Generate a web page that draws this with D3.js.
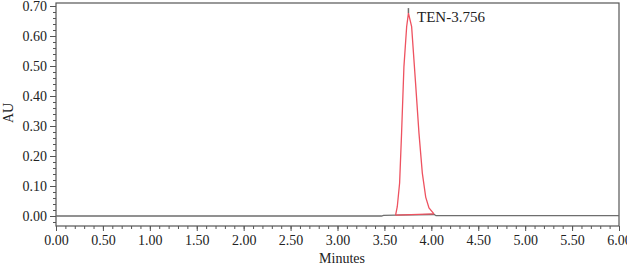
<!DOCTYPE html>
<meta charset="utf-8">
<style>
    body {
        margin: 0;
        background: #fff;
        font-family: "Liberation Serif", "Times New Roman", serif;
    }

    text {
        fill: #222;
    }
</style>

<body>
    <svg id="chart" width="627" height="272"></svg>
</body>

<script src="https://cdn.jsdelivr.net/npm/d3@7/dist/d3.min.js"></script>
<script>
    // chromatogram trace (minutes, AU)
    var baseTimes = [0.00, 3.47, 3.49, 3.62, 4.03, 4.05, 6.00],
        baseValues = [0.000, 0.000, 0.002, 0.003, 0.005, 0.001, 0.001];

    var peakTimes = [3.619, 3.637, 3.662, 3.683, 3.708, 3.737, 3.756, 3.790, 3.832, 3.868, 3.904, 3.940, 3.975, 4.028],
        peakValues = [0.003, 0.031, 0.110, 0.277, 0.498, 0.631, 0.676, 0.631, 0.443, 0.277, 0.143, 0.063, 0.027, 0.007];

    var apexTime = 3.756,
        apexTop = 0.693,
        peakLabel = "TEN-3.756";

    var xTicks = [0, 0.5, 1, 1.5, 2, 2.5, 3, 3.5, 4, 4.5, 5, 5.5, 6],
        yTicks = [0, 0.1, 0.2, 0.3, 0.4, 0.5, 0.6, 0.7];

    function drawChart() {
        var svg = d3.select("#chart"),
            pLeft = 56, pRight = 619, pTop = 3, pBottom = 226;

        var x = d3.scaleLinear().domain([0, 6]).range([pLeft, pRight]),
            y = d3.scaleLinear().domain([-1 / 30, 0.71]).range([pBottom, pTop]);

        // frame
        svg.append("rect")
            .attr("x", pLeft).attr("y", pTop)
            .attr("width", pRight - pLeft).attr("height", pBottom - pTop)
            .attr("fill", "none").attr("stroke", "#555").attr("stroke-width", 1.2);

        // x axis: minor ticks every 0.1, labelled ticks every 0.5
        var xMinor = d3.range(0, 61).map(function (i) { return i / 10; });
        svg.append("g").attr("transform", "translate(0," + pBottom + ")")
            .call(d3.axisBottom(x).tickValues(xMinor).tickSize(3).tickFormat(""))
            .call(function (g) { g.select(".domain").remove(); g.selectAll("line").attr("stroke", "#555"); });
        svg.append("g").attr("transform", "translate(0," + pBottom + ")")
            .call(d3.axisBottom(x).tickValues(xTicks).tickSize(5).tickPadding(4).tickFormat(d3.format(".2f")))
            .call(function (g) {
                g.select(".domain").remove();
                g.selectAll("line").attr("stroke", "#555");
                g.selectAll("text").attr("font-size", 14).attr("font-family", "Liberation Serif").attr("fill", "#222");
            });

        // y axis
        var yMinor = d3.range(-1, 36).map(function (i) { return i / 50; });
        svg.append("g").attr("transform", "translate(" + pLeft + ",0)")
            .call(d3.axisLeft(y).tickValues(yMinor).tickSize(3).tickFormat(""))
            .call(function (g) { g.select(".domain").remove(); g.selectAll("line").attr("stroke", "#555"); });
        svg.append("g").attr("transform", "translate(" + pLeft + ",0)")
            .call(d3.axisLeft(y).tickValues(yTicks).tickSize(6).tickPadding(3).tickFormat(d3.format(".2f")))
            .call(function (g) {
                g.select(".domain").remove();
                g.selectAll("line").attr("stroke", "#555");
                g.selectAll("text").attr("font-size", 14).attr("font-family", "Liberation Serif").attr("fill", "#222");
            });

        // axis titles
        svg.append("text")
            .attr("x", 342).attr("y", 263)
            .attr("text-anchor", "middle").attr("font-size", 14)
            .text("Minutes");
        svg.append("text")
            .attr("transform", "translate(13,113)rotate(-90)")
            .attr("text-anchor", "middle").attr("font-size", 14)
            .text("AU");

        var line = d3.line()
            .x(function (d) { return x(d[0]); })
            .y(function (d) { return y(d[1]); });

        // gray detector trace
        svg.append("path")
            .datum(d3.zip(baseTimes, baseValues))
            .attr("d", line)
            .attr("fill", "none").attr("stroke", "#6e6e6e").attr("stroke-width", 1.3);
        svg.append("path")
            .datum([[apexTime, peakValues[6]], [apexTime, apexTop]])
            .attr("d", line)
            .attr("fill", "none").attr("stroke", "#6e6e6e").attr("stroke-width", 1.5);

        // integrated peak (red)
        var peak = d3.zip(peakTimes, peakValues);
        svg.append("path")
            .datum(peak)
            .attr("d", line)
            .attr("fill", "none").attr("stroke", "#ee5260").attr("stroke-width", 1.3);
        svg.append("path")
            .datum([peak[0], peak[peak.length - 1]])
            .attr("d", line)
            .attr("fill", "none").attr("stroke", "#ee5260").attr("stroke-width", 1.3);

        svg.append("text")
            .attr("x", 417).attr("y", 22)
            .attr("font-size", 15)
            .text(peakLabel);
    }
    drawChart();
</script>
